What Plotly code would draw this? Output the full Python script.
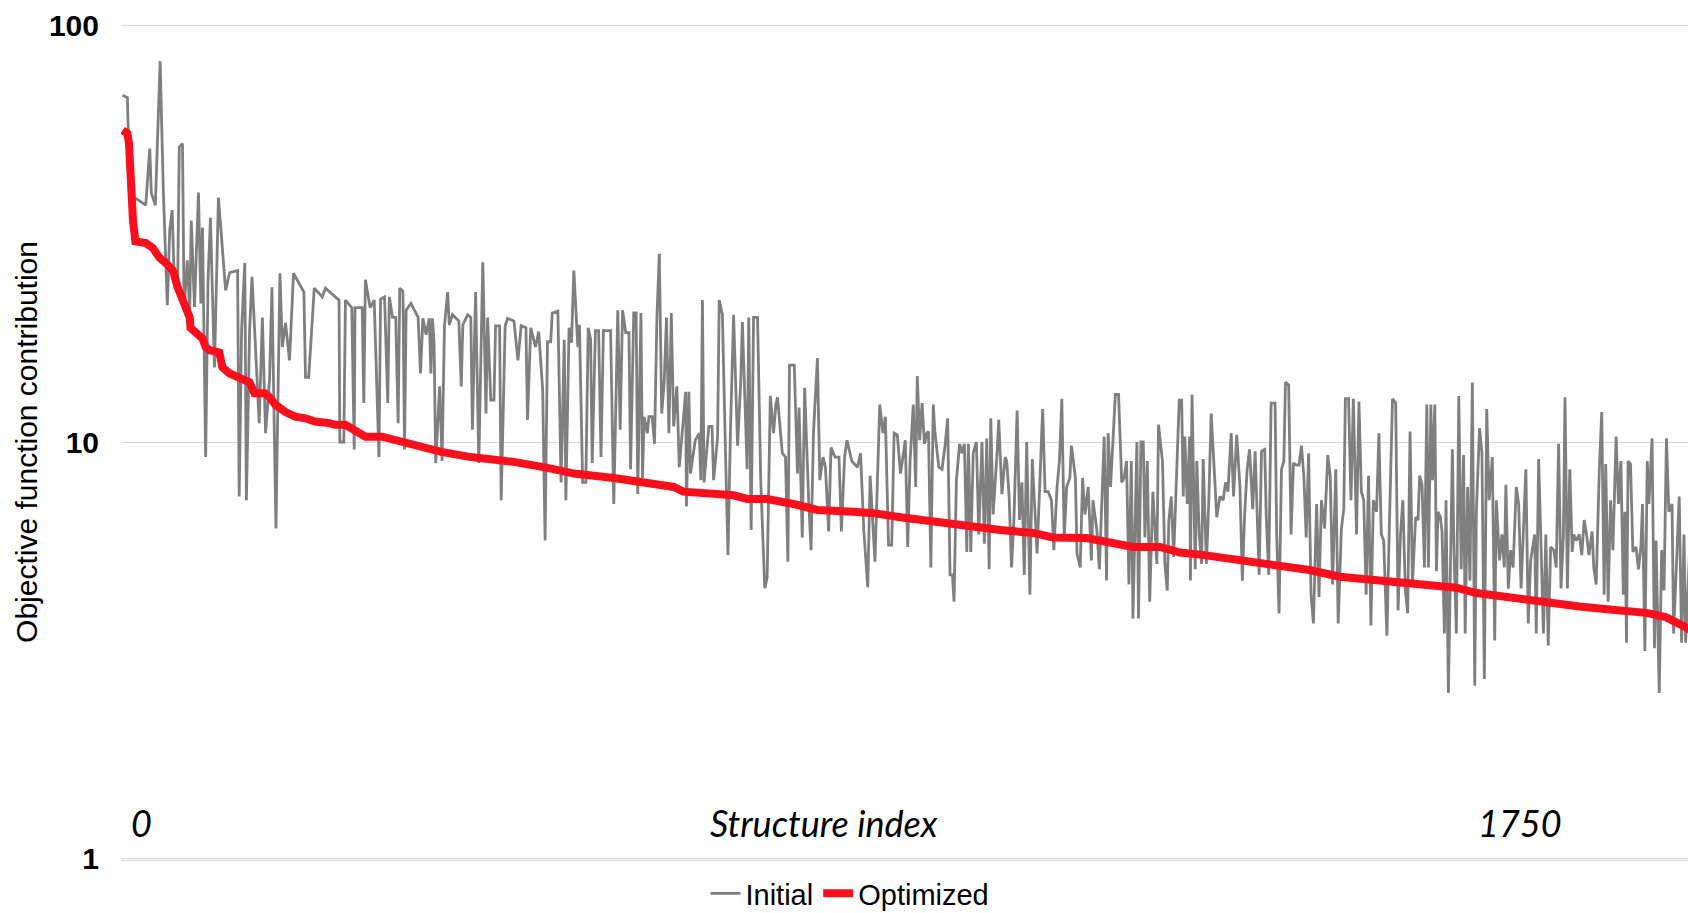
import plotly.graph_objects as go

# Initial objective contribution per structure (structure index, value)
initial_index = [
    0, 6, 8, 10, 15, 25, 29, 34, 36, 41,
    47, 51, 56, 59, 62, 65, 69, 71, 75, 77,
    81, 84, 86, 90, 95, 98, 100, 104, 107, 110,
    115, 120, 125, 129, 134, 144, 146, 149, 153, 155,
    159, 162, 166, 171, 175, 179, 184, 187, 192, 197,
    200, 204, 209, 214, 227, 229, 233, 240, 250, 254,
    271, 272, 277, 279, 287, 290, 291, 300, 302, 304,
    310, 315, 321, 323,
    328, 332, 334, 338, 342, 345, 347, 351, 353, 355,
    361, 370, 373, 376, 380, 384, 386, 388, 390, 392,
    397, 400, 403, 407, 409, 413, 421, 424, 426, 432,
    436, 438, 442, 446, 451, 455, 457, 461, 465, 467,
    472, 474, 479, 482, 490, 495, 499, 505, 507, 511,
    517, 521, 526, 529, 532, 536, 538, 545, 549, 553,
    555, 559, 562, 565, 570, 572, 576, 580, 583, 586,
    588, 592, 596, 599, 602, 611, 615, 620, 623, 626,
    630, 634, 636, 640, 643, 645, 649,
    651, 653, 657, 659, 663, 666, 669, 672, 675, 678,
    681, 684, 687, 690, 694, 697, 700, 705, 706, 709,
    711, 717, 722, 724, 726, 728, 734, 738, 740, 745,
    747, 751, 755, 758, 761, 765, 770, 774, 776, 780,
    782, 784, 787, 790, 795, 799, 804, 807, 811, 815,
    818, 820, 826, 830, 833, 835, 841, 845, 847, 851,
    854, 859, 862, 865, 870, 873, 877, 880, 884, 887,
    892, 897, 900, 904, 907, 913, 920, 924, 928, 933,
    936, 942, 948, 952, 955, 959, 963, 966, 970, 974,
    977, 980, 983, 986, 990, 993, 995, 998, 1001, 1004,
    1007, 1009, 1012, 1015, 1017, 1022, 1026, 1030, 1033, 1036,
    1039, 1041, 1044, 1048, 1051, 1054, 1057, 1059, 1062, 1065,
    1069, 1072, 1076, 1079, 1082, 1085, 1087, 1090, 1095, 1097,
    1101, 1105, 1107, 1110, 1113, 1116, 1120, 1123, 1126, 1129,
    1132, 1136, 1139, 1145, 1148, 1152, 1155, 1159, 1163, 1166,
    1170, 1173, 1176, 1179, 1182, 1186, 1188, 1193, 1195, 1199,
    1202, 1205, 1209, 1213, 1215, 1220, 1223, 1226, 1229, 1232,
    1234, 1237, 1243, 1247, 1251, 1254, 1257, 1260, 1263, 1265,
    1270, 1272, 1275, 1278, 1280, 1283, 1286, 1290, 1295, 1297,
    1302, 1305, 1308, 1310, 1313, 1316, 1319, 1323, 1326, 1328,
    1330, 1333, 1336, 1337, 1339, 1343, 1345, 1348, 1351, 1353,
    1357, 1360, 1363, 1366, 1370, 1374, 1378, 1381, 1384, 1388,
    1391, 1395, 1399, 1402, 1405, 1408, 1411, 1415, 1418, 1420,
    1423, 1426, 1430, 1432, 1435, 1438, 1443, 1445, 1448, 1451,
    1454, 1456, 1460, 1463, 1466, 1470, 1473, 1476, 1479, 1482,
    1485, 1488, 1491, 1495, 1498, 1501, 1505, 1509, 1512, 1515,
    1519, 1522, 1526, 1529, 1531, 1535, 1538, 1541, 1545, 1548,
    1551, 1554, 1557, 1560, 1563, 1566, 1570, 1573, 1576, 1579,
    1583, 1586, 1590, 1594, 1597, 1600, 1603, 1606, 1609, 1612,
    1615, 1619, 1622,
    1624, 1627, 1630, 1633, 1635, 1638, 1640, 1643, 1645, 1647,
    1650, 1652, 1655, 1657, 1660, 1663, 1665, 1667, 1670, 1673,
    1676, 1679, 1681, 1684, 1687, 1690, 1693, 1695, 1699, 1702,
    1705, 1708, 1711, 1715, 1718, 1720, 1724, 1727, 1730, 1732,
    1735, 1738, 1741, 1745, 1748, 1751, 1754, 1757, 1760, 1763,
    1768, 1770, 1773, 1776, 1779, 1782, 1785, 1788, 1792, 1795,
    1798, 1801, 1804, 1806, 1809, 1812, 1815, 1817, 1820, 1824,
    1827, 1830, 1833, 1836, 1840, 1842, 1845, 1849, 1852, 1855,
    1857, 1860, 1863, 1866, 1870, 1873, 1876, 1879, 1881, 1883,
    1885, 1888, 1891, 1895, 1898, 1901, 1903, 1906, 1909, 1911,
    1915, 1918, 1920, 1924, 1927, 1930, 1933, 1936, 1940, 1942,
    1945, 1949, 1952, 1955, 1957, 1962,
]
initial_value = [
    67.9, 67, 47.5, 36.6, 38.6, 37.5, 37, 50.6, 39.5, 37,
    82, 40, 21.3, 32.2, 36, 23.5, 24.5, 51, 52, 20.7,
    27.3, 20.7, 34, 21.1, 39.7, 21.5, 32.7, 9.2, 24.5, 34.5,
    15.1, 38.6, 29.4, 23.1, 25.5, 25.8, 7.4, 18.5, 26.9, 7.25,
    18.5, 24.9, 17.5, 11.1, 19.9, 10.5, 14.1, 23.5, 6.2, 25.4,
    16.9, 19.3, 15.7, 25.4, 22.9, 14.3, 14.3, 23.4, 22.3, 23.4,
    21.9, 10, 10, 21.9, 21, 9.6, 21, 21, 12.4, 24.5,
    21, 21.9, 9.2, 22,
    22.3, 12.4, 22.3, 19.9, 19.9, 11.1, 23.4, 23, 9.6, 20.7,
    21.5, 19.9, 14.6, 19.8, 18.1, 19.8, 14.6, 19.8, 17.3, 8.9,
    13.6, 9.0, 19.0, 22.9, 19.1, 20.2, 19.5, 13.6, 19.1, 20.2,
    19.9, 10.7, 22.9, 8.9, 27.0, 11.7, 19.9, 12.6, 12.6, 19.0,
    19, 7.25, 19, 19.8, 19.5, 15.7, 19, 18.8, 11.3, 18.8,
    16.9, 18.4, 13.3, 5.8, 17.4, 17.4, 20.4, 20.6, 8.0, 17.6,
    7.25, 18.8, 17.3, 25.8, 16.9, 19.1, 8.0, 8.0, 18.8, 17.6,
    8.9, 18.5, 18.5, 9.2, 18.5, 18.5, 7.1, 20.7, 10.7, 20.7,
    18.3, 18.3, 8.6, 20.4, 20.4, 7.5, 20.4,
    8.2, 11.5, 10.5, 11.5, 11.5, 9.9, 19.9, 28.3, 11.7, 13.8,
    19.9, 10.5, 20.4, 10.9, 13.6, 8.7, 10.3, 13.2, 7.0, 13.2,
    8.4, 10.1, 10.5, 8.1, 21.9, 8.0, 10.9, 10.9, 8.1, 10.3,
    21.9, 20.2, 9.2, 5.36, 10.5, 20.2, 9.8, 14, 19.4, 11.5,
    8.6, 19.9, 6.15, 19.9, 19.9, 8.1, 4.46, 4.72, 12.9, 10.5,
    12.3, 12.8, 9.4, 9.2, 5.16, 15.3, 15.3, 8.4, 12.1, 5.9,
    13.5, 7.25, 5.5, 10.5, 15.9, 8.1, 9.2, 8.7, 6.1, 9.7,
    9.2, 9.2, 6.1, 9.2, 10.1, 9.0, 8.7, 9.4, 6.15, 4.48,
    8.3, 5.16, 12.3, 10.5, 11.5, 5.66, 5.66, 10.5, 10.4, 8.4,
    9.1, 10.1, 5.6, 9.0, 12.3, 7.8, 14.4, 10.1, 12.4, 9.9,
    10.5, 10.6, 5.0, 12.3, 10.6, 8.7, 8.6, 9.9, 11.4, 4.8,
    4.8, 4.14, 8.1, 9.9, 9.4, 9.9, 5.45, 9.9, 5.45, 9.4,
    10.0, 6.0, 10.0, 5.7, 10.2, 4.95, 11.4, 6.7, 9.5, 11.3,
    7.5, 9.2, 9.0, 7.4, 5.0, 6.5, 11.9, 6.5, 8.0, 4.8,
    10.0, 4.3, 9.1, 5.4, 7.6, 12.0, 7.6, 7.6, 7.25, 5.5,
    7.8, 9.0, 12.7, 5.9, 7.8, 8.2, 9.8, 8.2, 5.4, 5.0,
    8.2, 6.7, 7.8, 5.2, 7.25, 6.1, 4.95, 7.4, 10.3, 4.65,
    10.5, 7.8, 13.0, 13.0, 8.0, 8.2, 9.0, 4.55, 9.0, 3.77,
    10.0, 3.77, 10.0, 10.0, 5.9, 9.0, 4.14, 7.6, 5.1, 11.0,
    9.0, 5.1, 4.4, 6.5, 7.4, 5.3, 7.8, 12.6, 12.6, 7.4,
    10.3, 7.1, 10.3, 4.65, 13.0, 4.95, 9.0, 6.0, 5.1, 9.1,
    5.1, 7.25, 11.7, 8.86, 6.6, 7.4, 7.25, 8.0, 7.6, 10.5,
    7.4, 10.4, 7.8, 4.65, 6.8, 8.6, 9.6, 6.9, 9.5, 7.25,
    4.8, 9.5, 9.6, 6.6, 4.8, 12.4, 12.4, 6.0, 3.88, 8.6,
    9.0, 13.9, 13.7, 6.0, 8.9, 8.8, 8.8, 9.8, 8.3, 5.9,
    9.4, 4.3, 3.67, 7.1, 4.25, 7.25, 6.2, 9.3, 8.3, 4.55,
    8.6, 3.67, 6.2, 6.9, 12.7, 12.7, 7.25, 12.7, 6.0, 12.5,
    7.6, 7.25, 4.3, 8.3, 3.63, 7.25, 6.8, 10.5, 6.0, 5.8,
    3.43, 6.2, 12.7, 12.4, 3.95, 6.0, 7.25, 4.45, 3.88, 10.6,
    4.55, 6.6, 6.5,
    8.3, 7.9, 5.0, 12.3, 5.0, 12.3, 8.1, 12.3, 4.9, 6.8,
    6.6, 6.1, 3.47, 7.25, 2.5, 5.6, 9.6, 5.5, 3.47, 12.9,
    4.95, 9.3, 3.47, 7.8, 4.65, 13.9, 2.6, 6.8, 10.8, 9.4,
    2.7, 12.0, 7.25, 9.2, 3.34, 7.25, 5.2, 6.0, 5.0, 7.9,
    4.45, 5.5, 5.0, 7.8, 7.1, 4.45, 6.0, 8.6, 3.67, 5.2,
    6.0, 3.47, 9.1, 6.0, 3.47, 6.0, 3.25, 5.6, 5.5, 5.0,
    9.9, 4.45, 6.0, 12.8, 4.45, 8.6, 5.45, 6.0, 5.8, 6.0,
    5.35, 6.5, 6.0, 5.35, 6.1, 5.0, 4.55, 8.6, 11.8, 4.3,
    8.86, 4.14, 7.25, 5.5, 10.3, 7.1, 9.0, 4.3, 6.8, 3.3,
    9.0, 8.86, 5.45, 5.6, 4.95, 5.6, 7.1, 3.15, 9.0, 7.1,
    10.2, 3.2, 5.8, 2.5, 5.5, 4.4, 10.2, 6.8, 7.1, 3.47,
    4.9, 7.4, 3.3, 6.0, 3.3, 5.5,
]

# Optimized objective contribution (sorted in descending order)
optimized_index = [
    0, 6, 8, 11, 13, 16, 29, 38, 46, 54,
    63, 69, 79, 84, 85, 94, 100, 104, 109, 121,
    125, 134, 146, 159, 165, 178, 184, 191, 204, 216,
    229, 241, 259, 266, 279, 291, 300, 304, 325, 399,
    436, 490, 532, 565, 615, 649, 690, 702, 732, 765,
    782, 807, 840, 870, 915, 940, 974, 1015, 1049, 1099,
    1140, 1165, 1207, 1240, 1265, 1299, 1324, 1352, 1382, 1424,
    1457, 1486, 1524, 1565, 1624, 1640, 1649, 1670, 1695, 1728,
    1782, 1824, 1865, 1908, 1932, 1949, 1959, 1972,
]
optimized_value = [
    56, 55, 52, 36.5, 34, 30.3, 30, 29.2, 27.7, 26.9,
    25.8, 23.5, 21.1, 19.9, 18.8, 18.0, 17.7, 16.9, 16.6, 16.4,
    15.1, 14.6, 14.2, 13.9, 13.1, 13.1, 12.8, 12.3, 11.8, 11.5,
    11.4, 11.2, 11.1, 11.0, 11.0, 10.7, 10.5, 10.3, 10.3, 9.47,
    9.2, 8.96, 8.67, 8.4, 8.2, 8.0, 7.8, 7.6, 7.55, 7.45,
    7.3, 7.3, 7.1, 6.87, 6.8, 6.75, 6.6, 6.43, 6.28, 6.15,
    6.05, 5.9, 5.88, 5.72, 5.6, 5.6, 5.43, 5.36, 5.27, 5.12,
    5.02, 4.93, 4.75, 4.67, 4.54, 4.54, 4.48, 4.47, 4.34, 4.25,
    4.14, 4.03, 3.96, 3.89, 3.8, 3.68, 3.58, 3.45,
]

assert len(initial_index) == len(initial_value)
assert len(optimized_index) == len(optimized_value)

y_ticks = [1, 10, 100]
y_tick_labels = ["1", "10", "100"]

label_font = dict(family="Lato", size=36, color="#000000", style="italic")

fig = go.Figure()
fig.add_trace(go.Scatter(
    x=initial_index, y=initial_value, mode="lines", name="Initial",
    line=dict(color="#7f7f7f", width=2.8),
))
fig.add_trace(go.Scatter(
    x=optimized_index, y=optimized_value, mode="lines", name="Optimized",
    line=dict(color="#fb0f1c", width=8),
))

fig.update_layout(
    width=1688, height=913,
    margin=dict(l=121, r=0, t=24, b=53, autoexpand=False),
    paper_bgcolor="white", plot_bgcolor="white",
    font=dict(family="Arial", size=30, color="#000000"),
    showlegend=True,
    legend=dict(
        orientation="h", x=0.373, xanchor="left", y=-0.040, yanchor="middle",
        font=dict(family="Arial", size=29, color="#000000"),
        bgcolor="rgba(0,0,0,0)", itemwidth=30, tracegroupgap=0,
    ),
    xaxis=dict(
        range=[-2, 1960], showgrid=False, zeroline=False, showticklabels=False,
        ticks="", showline=True, linecolor="#d9d9d9", linewidth=1,
    ),
    yaxis=dict(
        type="log", range=[-0.003, 2.003], tickvals=y_ticks, ticktext=y_tick_labels,
        showgrid=True, gridcolor="#d9d9d9", gridwidth=1, zeroline=False, ticks="",
        ticklabelstandoff=21,
        tickfont=dict(family="Arial", size=30, color="#000000", weight="bold"),
        title=dict(text="Objective function contribution", standoff=2,
                   font=dict(family="Arial", size=30, color="#000000")),
    ),
    annotations=[
        dict(text="0", xref="paper", yref="paper", x=0.0134, y=0.0443,
             xanchor="center", yanchor="middle", showarrow=False, font=label_font),
        dict(text="Structure index", xref="paper", yref="paper", x=0.4486, y=0.0443,
             xanchor="center", yanchor="middle", showarrow=False, font=label_font),
        dict(text="1750", xref="paper", yref="paper", x=0.8928, y=0.0443,
             xanchor="center", yanchor="middle", showarrow=False, font=label_font),
    ],
)

fig.write_html("out.html")
